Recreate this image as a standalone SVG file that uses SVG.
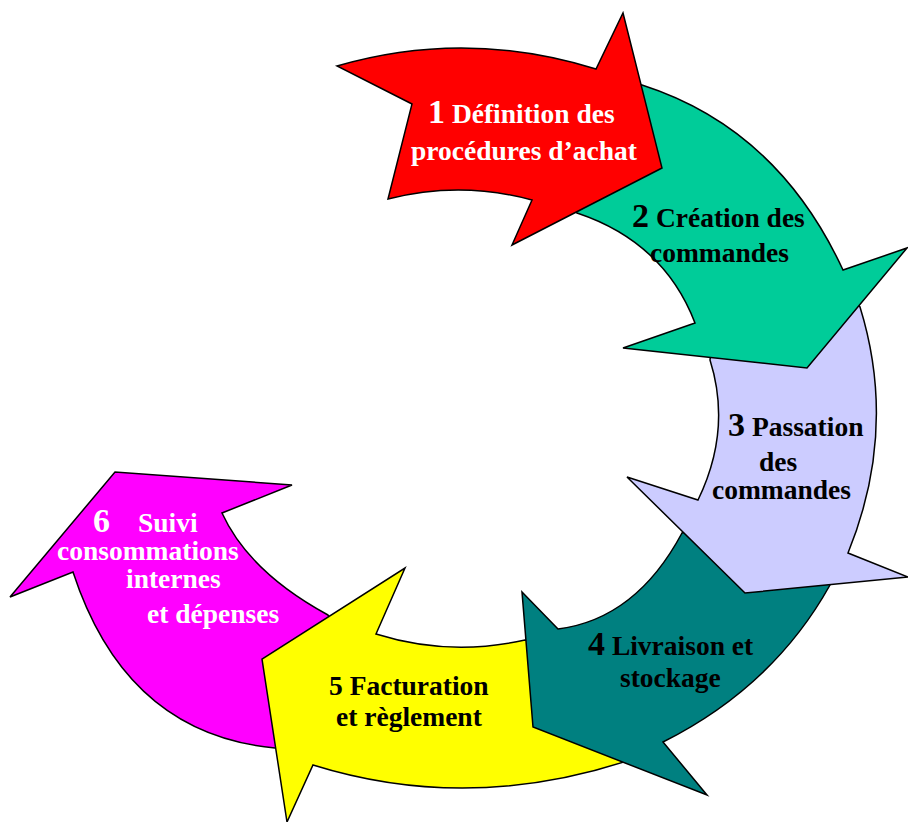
<svg xmlns="http://www.w3.org/2000/svg" width="908" height="822" viewBox="0 0 908 822">
<style>
.arrow{stroke:#000;stroke-width:1.5;stroke-linejoin:miter}
.t{font-family:"Liberation Serif","Times New Roman",serif;font-weight:bold;font-size:27.5px}
.big{font-size:34px}
.w{fill:#fff}
.k{fill:#000}
</style>
<rect width="908" height="822" fill="#fff"/>
<g id="step6">
<path class="arrow" fill="#FF00FF" d="M285,744 L275,748 Q126,734 73,572 L10,597 L115,472 L292,485 L222,513 Q249,572 328,615 L335,625 Z"/>
<text class="t w big" x="93" y="532">6</text>
<text class="t w" x="138" y="532">Suivi</text>
<text class="t w" x="57" y="560">consommations</text>
<text class="t w" x="126" y="588">internes</text>
<text class="t w" x="147" y="623">et dépenses</text>
</g>
<g id="step5">
<path class="arrow" fill="#FFFF00" d="M620,754 L630,760 Q468.5,813.5 313,765 L287,822 L262,659 L405,568 L376,634 Q449.5,657 525,640 L535,642 Z"/>
<text class="t k" x="329" y="695">5 Facturation</text>
<text class="t k" x="336" y="726">et règlement</text>
</g>
<g id="step4">
<path class="arrow" fill="#008080" d="M820,576 L830,585 Q773.5,686.5 663,742 L707,795 L533,727 L522,592 L558,629 Q636,619 682,533 L692,530 Z"/>
<text class="t k" x="588" y="655"><tspan class="big">4</tspan> Livraison et</text>
<text class="t k" x="620" y="687">stockage</text>
</g>
<g id="step3">
<path class="arrow" fill="#CCCCFF" d="M852,298 L860,307 Q898,430 848,553 L908,577 L745,593 L627,477 L698,500 Q732,430 710,360 L712,345 Z"/>
<text class="t k" x="728" y="436"><tspan class="big">3</tspan> Passation</text>
<text class="t k" x="759" y="471">des</text>
<text class="t k" x="712" y="499">commandes</text>
</g>
<g id="step2">
<path class="arrow" fill="#00CC99" d="M605,78 L642,85 Q777.5,128.5 843,270 L907,248 L807,368 L623,348 L695,323 Q664,242 577,213 L565,205 Z"/>
<text class="t k" x="632" y="227"><tspan class="big">2</tspan> Création des</text>
<text class="t k" x="650" y="262">commandes</text>
</g>
<g id="step1">
<path class="arrow" fill="#FF0000" d="M337,66 Q465.5,28.5 596,69 L623,13 L662,168 L512,245 L532,200 Q460,180.5 388,199 L412,104 Z"/>
<text class="t w" x="428" y="123"><tspan class="big">1</tspan> Définition des</text>
<text class="t w" x="411" y="160">procédures d’achat</text>
</g>
<g id="connectors"/>
</svg>
